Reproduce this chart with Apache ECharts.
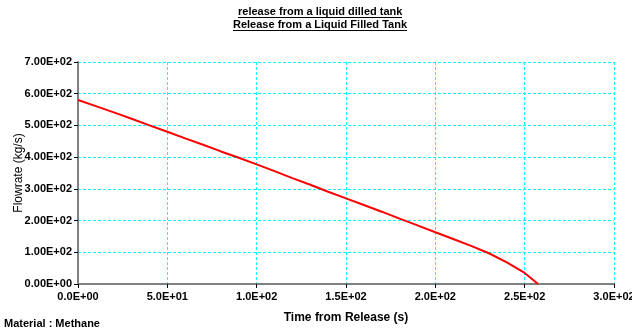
<!DOCTYPE html>
<html>
<head>
<meta charset="utf-8">
<script src="https://cdn.jsdelivr.net/npm/echarts@6/dist/echarts.min.js"></script>
<style>
  html, body { margin: 0; padding: 0; background: #fff; }
  #chart { width: 632px; height: 331px; }
</style>
</head>
<body>
<div id="chart"></div>
<script>
// Discharge history of a liquid-filled tank (methane)
const titleLines = ['release from a liquid dilled tank', 'Release from a Liquid Filled Tank'];
const materialNote = 'Material : Methane';
const xAxisName = 'Time from Release (s)';
const yAxisName = 'Flowrate (kg/s)';

// Time after release (s)
const timeS = [0, 10, 20, 30, 40, 50, 60, 70, 80, 90, 100, 110, 120, 130, 140, 150,
               160, 170, 180, 190, 200, 210, 220, 230, 240, 250, 257.5];
// Mass flow rate (kg/s)
const flowKgS = [580, 561, 541, 521, 500, 480, 459, 439, 418, 398, 377, 356, 334, 313, 291, 270,
                 249, 228, 206, 185, 163, 142, 120, 97, 68, 35, 0];

// Axis ranges and tick steps
const xRange = [0, 300, 50];
const yRange = [0, 700, 100];

const NARROW = '"Liberation Sans Narrow", "Arial Narrow", "Liberation Sans", Arial, sans-serif';
const SANS = '"Liberation Sans", Arial, sans-serif';
const TITLE_FONT = 'bold 11px ' + NARROW;

// Excel-style scientific notation, e.g. 5.0E+01
function sci(v, digits) {
  const s = Number(v).toExponential(digits);
  const [m, e] = s.split('e');
  const sign = e[0] === '-' ? '-' : '+';
  const ex = Math.abs(parseInt(e, 10)).toString().padStart(2, '0');
  return m + 'E' + sign + ex;
}

// Text width for the title underlines
const measureCtx = document.createElement('canvas').getContext('2d');
function textWidth(text, font) {
  measureCtx.font = font;
  return measureCtx.measureText(text).width;
}

const W = 632;
const titleTops = [6, 19];
const titleGraphics = [];
titleLines.forEach((t, i) => {
  const w = Math.round(textWidth(t, TITLE_FONT));
  const x0 = Math.round(W / 2 - w / 2) + 4;
  titleGraphics.push({
    type: 'text', id: 'title' + i, x: x0, y: titleTops[i], z: 10,
    style: { text: t, font: TITLE_FONT, fill: '#000' }
  });
  titleGraphics.push({
    type: 'rect', id: 'underline' + i, z: 10,
    shape: { x: x0, y: titleTops[i] + 11, width: w, height: 1 },
    style: { fill: '#000' }
  });
});

const chart = echarts.init(document.getElementById('chart'), null, { renderer: 'canvas' });

const gridDash = { color: '#00FFFF', width: 1, type: [3, 2] };

chart.setOption({
  animation: false,
  backgroundColor: '#ffffff',
  grid: { left: 78, right: 18, top: 62, height: 222, containLabel: false, outerBoundsMode: 'none' },
  xAxis: {
    type: 'value',
    min: xRange[0], max: xRange[1], interval: xRange[2],
    name: xAxisName,
    nameLocation: 'middle',
    nameGap: 28,
    nameMoveOverlap: false,
    nameTextStyle: { fontFamily: SANS, fontWeight: 'bold', fontSize: 12, color: '#000' },
    axisLine: { show: true, onZero: false, lineStyle: { color: '#808080', width: 2 } },
    axisTick: { show: true, length: 4, lineStyle: { color: '#000', width: 1 } },
    axisLabel: {
      fontFamily: NARROW, fontWeight: 'bold', fontSize: 11, color: '#000', margin: 7,
      formatter: v => sci(v, 1)
    },
    splitLine: { show: true, lineStyle: gridDash }
  },
  yAxis: {
    type: 'value',
    min: yRange[0], max: yRange[1], interval: yRange[2],
    name: yAxisName,
    nameLocation: 'middle',
    nameGap: 53,
    nameRotate: 90,
    nameMoveOverlap: false,
    nameTextStyle: { fontFamily: SANS, fontSize: 12, color: '#000' },
    axisLine: { show: true, onZero: false, lineStyle: { color: '#808080', width: 2 } },
    axisTick: { show: true, length: 4, lineStyle: { color: '#000', width: 1 } },
    axisLabel: {
      fontFamily: NARROW, fontWeight: 'bold', fontSize: 11, color: '#000', margin: 6,
      formatter: v => sci(v, 2)
    },
    splitLine: { show: true, lineStyle: gridDash }
  },
  series: [{
    type: 'line',
    data: timeS.map((t, i) => [t, flowKgS[i]]),
    showSymbol: false,
    lineStyle: { color: '#FF0000', width: 2 },
    z: 5
  }],
  graphic: titleGraphics.concat([
    { type: 'text', id: 'material', left: 4, top: 318, style: { text: materialNote, font: 'bold 11px ' + NARROW, fill: '#000' } }
  ])
});
</script>
</body>
</html>
